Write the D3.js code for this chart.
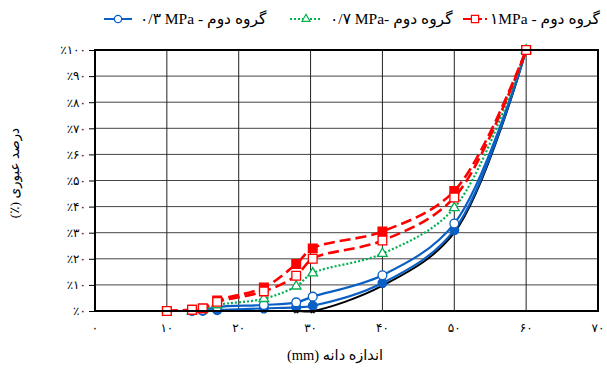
<!DOCTYPE html>
<html>
  <head>
    <meta charset="utf-8" />
    <script src="https://d3js.org/d3.v7.min.js"></script>
    <style>
      body { margin: 0; background: #fff; }
      text { font-family: "Liberation Serif", "DejaVu Sans", serif; }
    </style>
  </head>
  <body>
    <div id="chart"></div>
    <script>
      // grain size (mm) for each sieve reading
      var sizes = [10, 13.5, 15, 17, 23.5, 28, 30.3, 40, 50, 60];
      // passing percent
      var redFilled = [0, 0.5, 1, 4, 9, 18, 24, 30.5, 46, 100];
      var redOpen = [0, 0.5, 1, 3.5, 7.5, 13.5, 20, 27, 43.5, 100];
      var greenOpen = [null, 0, 0.5, 2.3, 4.7, 9.5, 14.5, 22, 39.5, 100];
      var blueOpen = [null, 0, 0.3, 1.5, 2.3, 3.3, 5.5, 13.7, 33.5, 100];
      var blueFilled = [null, 0, 0, 0.3, 1, 1.4, 2, 10.7, 31, 100];
      var blackLine = [null, 0, 0, 0, 0, 0, 0, 9.7, 30, 100];

      var xTicks = [0, 10, 20, 30, 40, 50, 60, 70];
      var yTicks = [0, 10, 20, 30, 40, 50, 60, 70, 80, 90, 100];
      var legendLabels = ["۰/۳ MPa - گروه دوم", "۰/۷ MPa- گروه دوم", "۱MPa - گروه دوم"];

      var width = 607, height = 374;
      var margin = { top: 50, right: 9, bottom: 63, left: 95 };

      var fa = function (n) {
        return String(n).replace(/\d/g, function (d) { return "۰۱۲۳۴۵۶۷۸۹"[+d]; });
      };

      var svg = d3.select("#chart").append("svg")
        .attr("width", width)
        .attr("height", height);

      var x = d3.scaleLinear().domain([0, 70]).range([margin.left, width - margin.right]);
      var y = d3.scaleLinear().domain([0, 100]).range([height - margin.bottom, margin.top]);

      // grid
      svg.append("g").selectAll("line.h").data(yTicks).enter().append("line")
        .attr("x1", x(0)).attr("x2", x(70))
        .attr("y1", function (d) { return y(d); })
        .attr("y2", function (d) { return y(d); })
        .attr("stroke", "#444").attr("stroke-width", 1);
      svg.append("g").selectAll("line.v").data(xTicks).enter().append("line")
        .attr("y1", y(0)).attr("y2", y(100))
        .attr("x1", function (d) { return x(d); })
        .attr("x2", function (d) { return x(d); })
        .attr("stroke", "#222").attr("stroke-width", 1);

      // y axis
      var yAxis = svg.append("g")
        .attr("transform", "translate(" + x(0) + ",0)")
        .call(d3.axisLeft(y).tickValues(yTicks).tickSize(6).tickPadding(3)
          .tickFormat(function (d) { return "٪" + fa(d); }));
      yAxis.select(".domain").remove();
      yAxis.selectAll("text").attr("font-family", "DejaVu Sans").attr("font-size", 12).attr("fill", "#000");

      // x axis labels
      svg.append("g").selectAll("text").data(xTicks).enter().append("text")
        .attr("x", function (d) { return x(d); })
        .attr("y", y(0) + 21)
        .attr("text-anchor", "middle")
        .attr("font-family", "DejaVu Sans")
        .attr("font-size", 12)
        .text(function (d) { return fa(d); });

      // series
      var series = [
        { v: blackLine, color: "#000", dash: null, width: 2, mark: "x", fill: "#000" },
        { v: blueFilled, color: "#0a5fc4", dash: null, width: 2.2, mark: "circle", fill: "#0a5fc4" },
        { v: blueOpen, color: "#0a5fc4", dash: null, width: 2.2, mark: "circle", fill: "#fff" },
        { v: greenOpen, color: "#00b050", dash: "2,2", width: 2.2, mark: "triangle", fill: "#fff" },
        { v: redFilled, color: "#ff0000", dash: "11,5", width: 2.6, mark: "square", fill: "#ff0000" },
        { v: redOpen, color: "#ff0000", dash: "11,5", width: 2.6, mark: "square", fill: "#fff" }
      ];

      var line = d3.line()
        .defined(function (d) { return d[1] !== null; })
        .x(function (d) { return x(d[0]); })
        .y(function (d) { return y(d[1]); })
        .curve(d3.curveCatmullRom.alpha(0.5));

      var symbols = { circle: d3.symbolCircle, square: d3.symbolSquare, triangle: d3.symbolTriangle, x: d3.symbolCross };
      var sizesOf = { circle: 60, square: 75, triangle: 40, x: 14 };

      series.forEach(function (s) {
        var pts = sizes.map(function (d, i) { return [d, s.v[i]]; });
        svg.append("path")
          .datum(pts)
          .attr("fill", "none")
          .attr("stroke", s.color)
          .attr("stroke-width", s.width)
          .attr("stroke-dasharray", s.dash)
          .attr("d", line);
        svg.append("g").selectAll("path").data(pts.filter(function (p) { return p[1] !== null; }))
          .enter().append("path")
          .attr("transform", function (p) {
            return "translate(" + x(p[0]) + "," + y(p[1]) + ")" + (s.mark === "x" ? " rotate(45)" : "");
          })
          .attr("d", d3.symbol().type(symbols[s.mark]).size(sizesOf[s.mark]))
          .attr("fill", s.fill)
          .attr("stroke", s.color)
          .attr("stroke-width", s.mark === "x" ? 0.5 : 1.3);
      });

      // plot frame
      svg.append("rect")
        .attr("x", x(0)).attr("y", y(100))
        .attr("width", x(70) - x(0)).attr("height", y(0) - y(100))
        .attr("fill", "none").attr("stroke", "#000").attr("stroke-width", 2);

      // legend
      var legend = [
        { x0: 104, x1: 132, tx: 140, color: "#0a5fc4", dash: null, mark: "circle" },
        { x0: 290, x1: 322, tx: 330, color: "#00b050", dash: "2,2", mark: "triangle" },
        { x0: 463, x1: 487, tx: 490, color: "#ff0000", dash: "8,3", mark: "square" }
      ];
      legend.forEach(function (l, i) {
        svg.append("line")
          .attr("x1", l.x0).attr("x2", l.x1).attr("y1", 19).attr("y2", 19)
          .attr("stroke", l.color).attr("stroke-width", 2)
          .attr("stroke-dasharray", l.dash);
        svg.append("path")
          .attr("transform", "translate(" + (l.x0 + l.x1) / 2 + ",19)")
          .attr("d", d3.symbol().type(symbols[l.mark]).size(sizesOf[l.mark] * 0.7))
          .attr("fill", "#fff").attr("stroke", l.color).attr("stroke-width", 1.2);
        svg.append("text")
          .attr("x", l.tx).attr("y", 24)
          .attr("font-size", 15.5)
          .text(legendLabels[i]);
      });

      // axis titles
      svg.append("text")
        .attr("x", 335).attr("y", 360)
        .attr("text-anchor", "middle")
        .attr("font-size", 14.5)
        .text("(mm) اندازه دانه");

      svg.append("text")
        .attr("transform", "translate(19,173) rotate(-90)")
        .attr("text-anchor", "middle")
        .attr("font-size", 13.5)
        .text("(٪) درصد عبوری");
    </script>
  </body>
</html>
